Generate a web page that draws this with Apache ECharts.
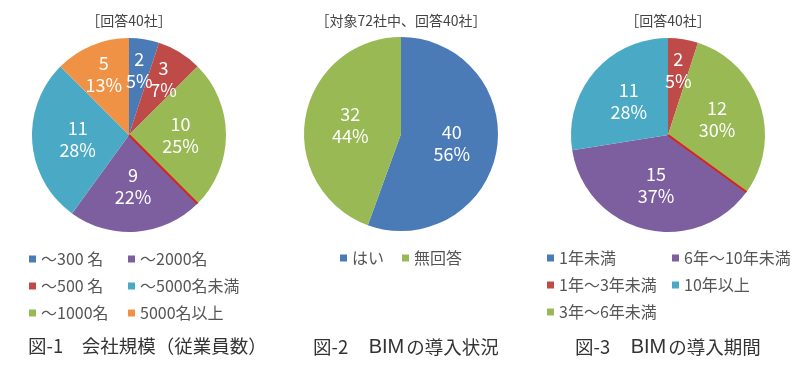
<!DOCTYPE html>
<html><head><meta charset="utf-8">
<script src="https://cdn.jsdelivr.net/npm/echarts@6/dist/echarts.min.js"></script>
<style>html,body{margin:0;padding:0;background:#fff}#c{width:800px;height:369px}</style>
</head><body><div id="c"></div>
<script>
// ---- data ----
const names1 = ['～300 名', '～500 名', '～1000名', '～2000名', '～5000名未満', '5000名以上'];
const values1 = [2, 3, 10, 9, 11, 5];
const pct1 = [5, 7, 25, 22, 28, 13];

const names2 = ['はい', '無回答'];
const values2 = [40, 32];
const pct2 = [56, 44];

const names3 = ['1年未満', '1年～3年未満', '3年～6年未満', '6年～10年未満', '10年以上'];
const values3 = [0, 2, 12, 15, 11];
const pct3 = [0, 5, 30, 37, 28];

const topTitles = ['［回答40社］', '［対象72社中、回答40社］', '［回答40社］'];
const captions = ['図-1　会社規模（従業員数）', '図-2　BIMの導入状況', '図-3　BIMの導入期間'];

// ---- style ----
const FONT = '"Noto Sans CJK JP", "Noto Sans", sans-serif';
const C = {blue:'#4a7bb7', red:'#be4b48', green:'#98b954', purple:'#7d5fa0', teal:'#4aaac5', orange:'#f09245'};
const colors1 = [C.blue, C.red, C.green, C.purple, C.teal, C.orange];
const colors2 = [C.blue, C.green];
const colors3 = [C.blue, C.red, C.green, C.purple, C.teal];

const pies = [
  {cx: 129, cy: 135, r: 97},
  {cx: 401, cy: 134, r: 97},
  {cx: 668, cy: 135, r: 97}
];

function mkData(names, values, colors) {
  return names.map((n, i) => ({name: n, value: values[i], itemStyle: {color: colors[i]}}));
}
function mkSeries(idx, names, values, pct, colors) {
  const p = pies[idx];
  return {
    type: 'pie', name: 'pie' + idx,
    center: [p.cx, p.cy], radius: [0, p.r],
    startAngle: 90, clockwise: true,
    data: mkData(names, values, colors),
    label: {
      show: true, position: 'inside', color: '#fff',
      fontFamily: FONT, fontSize: 18, lineHeight: 22,
      formatter: (q) => values[q.dataIndex] === 0 ? '' : values[q.dataIndex] + '\n' + pct[q.dataIndex] + '%'
    },
    labelLayout: function (params) {
      const i = params.dataIndex;
      const f = pct[i] < 15 ? 1.28 : 1.0; // small slices: labels pushed outward
      const r = params.labelRect;
      const lx = r.x + r.width / 2, ly = r.y + r.height / 2;
      return {dx: (lx - p.cx) * (f - 1), dy: (ly - p.cy) * (f - 1), hideOverlap: false, moveOverlap: null};
    },
    labelLine: {show: false},
    itemStyle: {borderWidth: 0},
    emphasis: {disabled: true},
    avoidLabelOverlap: false,
    silent: true
  };
}
function sepLine(idx, values, k) {
  const p = pies[idx];
  const total = values.reduce((a, b) => a + b, 0);
  const cum = values.slice(0, k).reduce((a, b) => a + b, 0);
  const ang = cum / total * Math.PI * 2;
  return {
    type: 'line', z: 100,
    shape: {x1: p.cx, y1: p.cy, x2: p.cx + p.r * Math.sin(ang), y2: p.cy - p.r * Math.cos(ang)},
    style: {stroke: '#e0201c', lineWidth: 2}
  };
}

const legendText = {fontFamily: FONT, fontSize: 16, color: '#555', lineHeight: 16};
function mkLegend(data, left, top, orient) {
  return {
    data: data, left: left, top: top, orient: orient || 'vertical',
    icon: 'rect', itemWidth: 7, itemHeight: 7, itemGap: 11, padding: 0,
    textStyle: legendText, selectedMode: false
  };
}

const titleCenters = [129, 401, 668];
const captionLefts = [28, 313, 575];
const titles = [];
topTitles.forEach((t, i) => titles.push({
  text: t, left: titleCenters[i], top: 14, textAlign: 'center', padding: 0,
  textStyle: {fontFamily: FONT, fontSize: 14, fontWeight: 'normal', color: '#444'}
}));
captions.forEach((t, i) => titles.push({
  text: t.replace('BIM', '{b|BIM}'), left: captionLefts[i], top: 337, padding: 0,
  textStyle: {
    fontFamily: FONT, fontSize: 18.5, fontWeight: 'normal', color: '#333',
    rich: {b: {fontFamily: '"Liberation Sans", Arial, sans-serif', fontSize: 20, color: '#333', padding: [0, 2, 0, 2]}}
  }
}));

const chart = echarts.init(document.getElementById('c'), null, {renderer: 'canvas'});
chart.setOption({
  animation: false,
  title: titles,
  legend: [
    mkLegend(names1.slice(0, 3), 29, 251),
    mkLegend(names1.slice(3), 128, 251),
    Object.assign(mkLegend(names2, 340, 250, 'horizontal'), {itemGap: 18}),
    mkLegend(names3.slice(0, 3), 547, 250),
    mkLegend(names3.slice(3), 672, 250)
  ],
  series: [
    mkSeries(0, names1, values1, pct1, colors1),
    mkSeries(1, names2, values2, pct2, colors2),
    mkSeries(2, names3, values3, pct3, colors3)
  ],
  graphic: [sepLine(0, values1, 3), sepLine(2, values3, 3)]
});
</script></body></html>
